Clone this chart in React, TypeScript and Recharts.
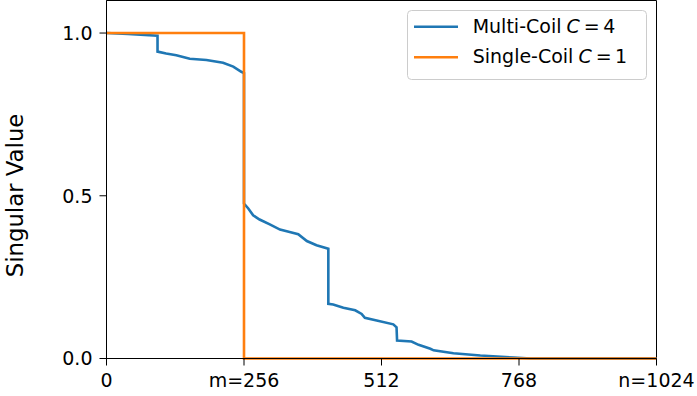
import React from 'react';
import { LineChart, Line, XAxis, YAxis, ReferenceArea } from 'recharts';

const multiCoilX = [0, 40, 95, 95, 111, 130, 155, 186, 217, 236, 251, 256, 256, 264, 273, 285, 304, 323, 341, 357, 373, 391, 413, 413, 422, 441, 463, 475, 481, 503, 534, 540, 541, 568, 581, 603, 609, 646, 696, 758, 790, 1024];
const multiCoilY = [1.0, 0.997, 0.992, 0.943, 0.937, 0.932, 0.921, 0.917, 0.909, 0.897, 0.881, 0.877, 0.476, 0.461, 0.44, 0.427, 0.412, 0.396, 0.389, 0.382, 0.361, 0.348, 0.337, 0.168, 0.166, 0.156, 0.148, 0.137, 0.125, 0.117, 0.105, 0.096, 0.055, 0.052, 0.042, 0.03, 0.025, 0.016, 0.009, 0.003, 0.0, 0.0];
const singleCoilX = [0, 256, 256, 1024];
const singleCoilY = [1.0, 1.0, 0.0, 0.0];

const xTicks = [0, 256, 512, 768, 1024];
const xTickLabels = ['0', 'm=256', '512', '768', 'n=1024'];
const yTicks = [0, 0.5, 1.0];
const seriesNames = ['Multi-Coil', 'Single-Coil'];
const seriesC = ['4', '1'];
const seriesColors = ['#1f77b4', '#ff7f0e'];

const multiData = multiCoilX.map((x, i) => ({ x, y: multiCoilY[i] }));
const singleData = singleCoilX.map((x, i) => ({ x, y: singleCoilY[i] }));

const FONT = '"DejaVu Sans", sans-serif';

const YLabel = (props: any) => {
  const vb = props.viewBox || { x: 0, y: 0.5, width: 106.5, height: 358 };
  const cx = vb.x + 23;
  const cy = vb.y + vb.height / 2 + 16;
  return (
    <text x={cx} y={cy} transform={`rotate(-90 ${cx} ${cy})`} textAnchor="middle" fontSize={22.8} fill="#000" fontFamily={FONT}>
      Singular Value
    </text>
  );
};

export default function App() {
  return (
    <div style={{ position: 'absolute', left: 0, top: 0, width: 697, height: 396, background: '#fff', fontFamily: FONT }}>
      <LineChart width={697} height={396} margin={{ top: 0.5, right: 40.5, bottom: 0, left: 0 }}>
        <XAxis
          dataKey="x"
          type="number"
          domain={[0, 1024]}
          ticks={xTicks}
          tickFormatter={(v: number) => xTickLabels[xTicks.indexOf(v)]}
          height={37.5}
          tick={{ fontSize: 19, fill: '#000', fontFamily: FONT }}
          tickLine={{ stroke: '#000' }}
          axisLine={{ stroke: '#000' }}
          tickSize={7}
          tickMargin={8}
          interval={0}
        />
        <YAxis
          type="number"
          domain={[0, 1.1]}
          ticks={yTicks}
          tickFormatter={(v: number) => v.toFixed(1)}
          width={106.5}
          tick={{ fontSize: 19, fill: '#000', fontFamily: FONT }}
          tickLine={{ stroke: '#000' }}
          axisLine={{ stroke: '#000' }}
          tickSize={7}
          tickMargin={7}
          interval={0}
          label={<YLabel />}
        />
        <Line data={multiData} dataKey="y" type="linear" stroke={seriesColors[0]} strokeWidth={2.6} dot={false} isAnimationActive={false} />
        <Line data={singleData} dataKey="y" type="linear" stroke={seriesColors[1]} strokeWidth={2.6} dot={false} isAnimationActive={false} />
        <ReferenceArea x1={0} x2={1024} y1={0} y2={1.1} fill="none" fillOpacity={0} stroke="#000" strokeWidth={1} ifOverflow="visible" />
      </LineChart>
      <svg style={{ position: 'absolute', left: 407, top: 10 }} width={240} height={70}>
        <rect x={0.5} y={0.5} width={239} height={69} rx={4} ry={4} fill="rgba(255,255,255,0.8)" stroke="#cccccc" strokeWidth={1} />
        {seriesNames.map((name, i) => (
          <g key={name}>
            <line x1={7} x2={51} y1={16.7 + i * 30.6} y2={16.7 + i * 30.6} stroke={seriesColors[i]} strokeWidth={2.6} />
            <text x={65.7} y={23.3 + i * 30} fontSize={19} fill="#000" fontFamily={FONT}>
              <tspan>{name}</tspan>
              <tspan dx={5} fontStyle="italic">C</tspan>
              <tspan dx={4}>=</tspan>
              <tspan dx={3.5}>{seriesC[i]}</tspan>
            </text>
          </g>
        ))}
      </svg>
    </div>
  );
}
